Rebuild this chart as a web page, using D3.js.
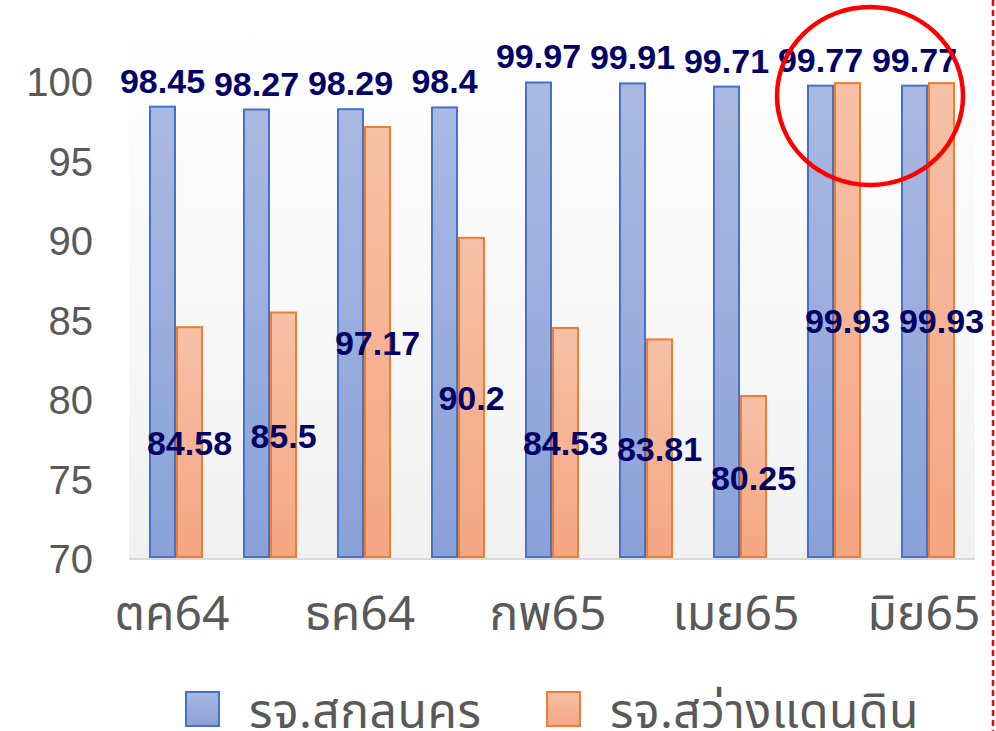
<!DOCTYPE html>
<html>
<head>
<meta charset="utf-8">
<script src="https://cdn.jsdelivr.net/npm/d3@7"></script>
<style>
  html, body { margin: 0; padding: 0; background: #fff; overflow: hidden; }
  svg { display: block; }
</style>
</head>
<body>
<div id="app"></div>
<script>
(function (d3) {

  'use strict'

  const months = ['ตค64', 'พย64', 'ธค64', 'มค65', 'กพ65', 'มีค65', 'เมย65', 'พค65', 'มิย65']
  const shownMonths = ['ตค64', 'ธค64', 'กพ65', 'เมย65', 'มิย65']
  const seriesNames = ['รจ.สกลนคร', 'รจ.สว่างแดนดิน']
  const sakon = [98.45, 98.27, 98.29, 98.4, 99.97, 99.91, 99.71, 99.77, 99.77]
  const sawang = [84.58, 85.5, 97.17, 90.2, 84.53, 83.81, 80.25, 99.93, 99.93]
  const yTicks = [70, 75, 80, 85, 90, 95, 100]

  const w = 996
  const h = 731
  const thai = "'Noto Sans Thai', 'Noto Sans Thai UI', Tahoma, 'Noto Sans', 'Liberation Sans', sans-serif"
  const arial = "'Liberation Sans', Arial, sans-serif"

  const svg = d3.select('#app')
    .append('svg')
    .attr('width', w)
    .attr('height', h)

  const defs = svg.append('defs')
  const grad = (id, top, bottom) => {
    const g = defs.append('linearGradient')
      .attr('id', id)
      .attr('x1', 0).attr('y1', 0).attr('x2', 0).attr('y2', 1)
    g.append('stop').attr('offset', '0%').attr('stop-color', top)
    g.append('stop').attr('offset', '100%').attr('stop-color', bottom)
  }
  grad('bg', '#ffffff', '#f1f1f1')
  grad('blue', '#a9b9e1', '#8aa1d8')
  grad('orange', '#f7c1a7', '#f4a682')

  const x = d3.scaleBand()
    .domain(months)
    .range([129, 975])

  const xs = d3.scaleBand()
    .domain(seriesNames)
    .range([0, x.bandwidth()])
    .paddingOuter(0.74)

  const y = d3.scaleLinear()
    .domain([70, 100])
    .range([559, 82])

  // plot background
  svg.append('rect')
    .attr('x', 129)
    .attr('y', 20)
    .attr('width', 975 - 129)
    .attr('height', y(70) - 20)
    .attr('fill', 'url(#bg)')

  const rows = months.map((m, i) => ({ month: m, values: [sakon[i], sawang[i]] }))

  const fills = ['url(#blue)', 'url(#orange)']
  const strokes = ['#4472c4', '#ed7d31']

  const groups = svg.append('g')
    .selectAll('g')
    .data(rows)
    .enter()
    .append('g')
    .attr('transform', d => 'translate(' + x(d.month) + ',0)')

  groups.selectAll('rect')
    .data(d => d.values.map((v, k) => ({ v: v, k: k })))
    .enter()
    .append('rect')
    .attr('x', d => xs(seriesNames[d.k]) + 1)
    .attr('y', d => y(d.v))
    .attr('width', xs.bandwidth() - 2)
    .attr('height', d => y(70) - y(d.v) - 2)
    .attr('fill', d => fills[d.k])
    .attr('stroke', d => strokes[d.k])
    .attr('stroke-width', 2)

  // axis line
  svg.append('line')
    .attr('x1', 129).attr('x2', 975)
    .attr('y1', y(70)).attr('y2', y(70))
    .attr('stroke', '#d9d9d9')
    .attr('stroke-width', 2)

  // y axis labels
  svg.append('g')
    .selectAll('text')
    .data(yTicks)
    .enter()
    .append('text')
    .attr('x', 93)
    .attr('y', d => y(d) + 14)
    .attr('text-anchor', 'end')
    .attr('fill', '#595959')
    .style('font-family', arial)
    .style('font-size', '40px')
    .text(d => d)

  // x axis labels
  svg.append('g')
    .selectAll('text')
    .data(shownMonths)
    .enter()
    .append('text')
    .attr('x', d => x(d) + x.bandwidth() / 2 - 4)
    .attr('y', 630)
    .attr('text-anchor', 'middle')
    .attr('fill', '#595959')
    .style('font-family', thai)
    .style('font-size', '48px')
    .text(d => d)

  // data labels
  const labelStyle = sel => sel
    .attr('text-anchor', 'middle')
    .attr('fill', '#000066')
    .style('font-family', arial)
    .style('font-weight', 'bold')
    .style('font-size', '34px')

  groups.append('text')
    .attr('x', xs(seriesNames[0]) + xs.bandwidth() / 2)
    .attr('y', d => y(d.values[0]) - 14)
    .call(labelStyle)
    .text(d => d.values[0])

  groups.append('text')
    .attr('x', xs(seriesNames[1]) + xs.bandwidth() / 2)
    .attr('y', d => (y(d.values[1]) + y(70)) / 2 + 12)
    .call(labelStyle)
    .text(d => d.values[1])

  // legend
  const legend = svg.append('g')
  const lx = [186, 547]
  seriesNames.forEach((name, k) => {
    legend.append('rect')
      .attr('x', lx[k])
      .attr('y', 692)
      .attr('width', 33)
      .attr('height', 34)
      .attr('fill', fills[k])
      .attr('stroke', strokes[k])
      .attr('stroke-width', 2)
    legend.append('text')
      .attr('x', lx[k] + 63)
      .attr('y', 728)
      .attr('fill', '#595959')
      .style('font-family', thai)
      .style('font-size', '48px')
      .style('letter-spacing', '0.5px')
      .text(name)
  })

  // annotations
  svg.append('ellipse')
    .attr('cx', 870)
    .attr('cy', 96)
    .attr('rx', 93)
    .attr('ry', 89)
    .attr('fill', 'none')
    .attr('stroke', '#ff0000')
    .attr('stroke-width', 4.5)

  svg.append('line')
    .attr('x1', 993).attr('x2', 993)
    .attr('y1', 0).attr('y2', h)
    .attr('stroke', '#ff0000')
    .attr('stroke-width', 2.5)
    .attr('stroke-dasharray', '6,4')

}(d3))
</script>
</body>
</html>
